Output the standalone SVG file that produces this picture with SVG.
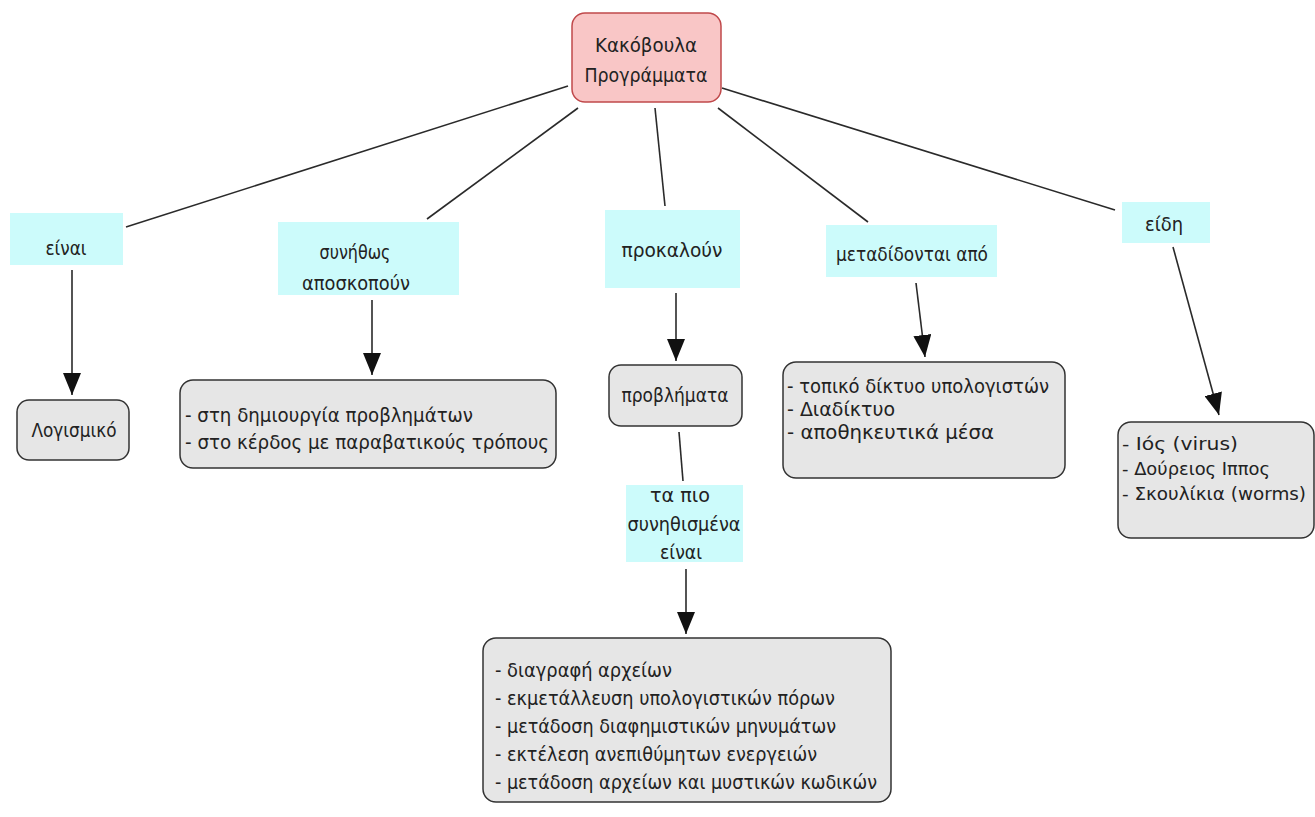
<svg xmlns="http://www.w3.org/2000/svg" width="1315" height="817" viewBox="0 0 1315 817">
<style>
text{font-family:"DejaVu Sans","Noto Sans",sans-serif;font-size:20px;fill:#222}
.c{text-anchor:middle}
.s{font-size:18.5px}
.lbl{fill:#ccfbfb;stroke:none}
.con{fill:#e6e6e6;stroke:#333;stroke-width:1.5}
.root{fill:#f9c6c6;stroke:#c0494b;stroke-width:1.5}
.ln{stroke:#2a2a2a;stroke-width:1.6;fill:none}
</style>
<defs>
<marker id="ah" markerUnits="userSpaceOnUse" markerWidth="22" markerHeight="18" refX="22" refY="9" orient="auto" viewBox="0 0 22 18">
<path d="M0,0 L22,9 L0,18 z" fill="#111"/>
</marker>
</defs>
<rect width="1315" height="817" fill="#fff"/>
<g id="connectors">
<line class="ln" x1="568" y1="86" x2="126" y2="227"/>
<line class="ln" x1="578" y1="108" x2="427" y2="219"/>
<line class="ln" x1="655" y1="108" x2="665" y2="206"/>
<line class="ln" x1="718" y1="108" x2="868" y2="222"/>
<line class="ln" x1="722" y1="88" x2="1115" y2="210"/>
<line class="ln" x1="72" y1="270" x2="72" y2="395" marker-end="url(#ah)"/>
<line class="ln" x1="372" y1="300" x2="372" y2="375" marker-end="url(#ah)"/>
<line class="ln" x1="676" y1="293" x2="676" y2="361" marker-end="url(#ah)"/>
<line class="ln" x1="679" y1="432" x2="683" y2="481"/>
<line class="ln" x1="686" y1="569" x2="686" y2="634" marker-end="url(#ah)"/>
<line class="ln" x1="916" y1="283" x2="925" y2="357" marker-end="url(#ah)"/>
<line class="ln" x1="1173" y1="247" x2="1219" y2="415" marker-end="url(#ah)"/>
</g>
<g id="root">
<rect class="root" x="572" y="13" width="149" height="89" rx="13"/>
<text class="c" x="646" y="52" textLength="102" lengthAdjust="spacingAndGlyphs">Κακόβουλα</text>
<text class="c" x="646" y="82" textLength="123" lengthAdjust="spacingAndGlyphs">Προγράμματα</text>
</g>
<g id="lbl-einai">
<rect class="lbl" x="10" y="213" width="113" height="52"/>
<text class="c" x="66" y="255" textLength="41" lengthAdjust="spacingAndGlyphs">είναι</text>
</g>
<g id="lbl-synithos">
<rect class="lbl" x="278" y="222" width="181" height="73"/>
<text class="c" x="355" y="259" textLength="71" lengthAdjust="spacingAndGlyphs">συνήθως</text>
<text class="c" x="356" y="290" textLength="108" lengthAdjust="spacingAndGlyphs">αποσκοπούν</text>
</g>
<g id="lbl-prokaloun">
<rect class="lbl" x="605" y="210" width="135" height="78"/>
<text class="c" x="672" y="257" textLength="101" lengthAdjust="spacingAndGlyphs">προκαλούν</text>
</g>
<g id="lbl-metadidontai">
<rect class="lbl" x="826" y="225" width="171" height="52"/>
<text class="c" x="912" y="261" textLength="152" lengthAdjust="spacingAndGlyphs">μεταδίδονται από</text>
</g>
<g id="lbl-eidi">
<rect class="lbl" x="1122" y="202" width="88" height="41"/>
<text class="c" x="1164" y="231" textLength="38" lengthAdjust="spacingAndGlyphs">είδη</text>
</g>
<g id="lbl-synithismena">
<rect class="lbl" x="626" y="485" width="117" height="77"/>
<text class="c" x="680" y="502" textLength="60" lengthAdjust="spacingAndGlyphs">τα πιο</text>
<text class="c" x="684" y="531" textLength="113" lengthAdjust="spacingAndGlyphs">συνηθισμένα</text>
<text class="c" x="681" y="559" textLength="42" lengthAdjust="spacingAndGlyphs">είναι</text>
</g>
<g id="n-logismiko">
<rect class="con" x="17" y="400" width="112" height="60" rx="12"/>
<text class="c" x="74" y="437" textLength="85" lengthAdjust="spacingAndGlyphs">Λογισμικό</text>
</g>
<g id="n-skopos">
<rect class="con" x="180" y="380" width="376" height="88" rx="13"/>
<text x="185" y="422" textLength="288" lengthAdjust="spacingAndGlyphs">- στη δημιουργία προβλημάτων</text>
<text x="185" y="449" textLength="364" lengthAdjust="spacingAndGlyphs">- στο κέρδος με παραβατικούς τρόπους</text>
</g>
<g id="n-provlimata">
<rect class="con" x="609" y="365" width="133" height="61" rx="12"/>
<text class="c" x="675" y="402" textLength="107" lengthAdjust="spacingAndGlyphs">προβλήματα</text>
</g>
<g id="n-diktyo">
<rect class="con" x="783" y="362" width="282" height="116" rx="13"/>
<text x="787" y="393" textLength="262" lengthAdjust="spacingAndGlyphs">- τοπικό δίκτυο υπολογιστών</text>
<text x="787" y="416" textLength="108" lengthAdjust="spacingAndGlyphs">- Διαδίκτυο</text>
<text x="787" y="439" textLength="207" lengthAdjust="spacingAndGlyphs">- αποθηκευτικά μέσα</text>
</g>
<g id="n-eidi">
<rect class="con" x="1118" y="422" width="196" height="116" rx="13"/>
<text class="s" x="1122" y="450" textLength="116" lengthAdjust="spacingAndGlyphs">- Ιός (virus)</text>
<text class="s" x="1122" y="475" textLength="148" lengthAdjust="spacingAndGlyphs">- Δούρειος Ιππος</text>
<text class="s" x="1122" y="500" textLength="184" lengthAdjust="spacingAndGlyphs">- Σκουλίκια (worms)</text>
</g>
<g id="n-energeies">
<rect class="con" x="483" y="638" width="408" height="164" rx="13"/>
<text x="495" y="677" textLength="177" lengthAdjust="spacingAndGlyphs">- διαγραφή αρχείων</text>
<text x="495" y="705" textLength="340" lengthAdjust="spacingAndGlyphs">- εκμετάλλευση υπολογιστικών πόρων</text>
<text x="495" y="733" textLength="341" lengthAdjust="spacingAndGlyphs">- μετάδοση διαφημιστικών μηνυμάτων</text>
<text x="495" y="761" textLength="322" lengthAdjust="spacingAndGlyphs">- εκτέλεση ανεπιθύμητων ενεργειών</text>
<text x="495" y="789" textLength="382" lengthAdjust="spacingAndGlyphs">- μετάδοση αρχείων και μυστικών κωδικών</text>
</g>
</svg>
